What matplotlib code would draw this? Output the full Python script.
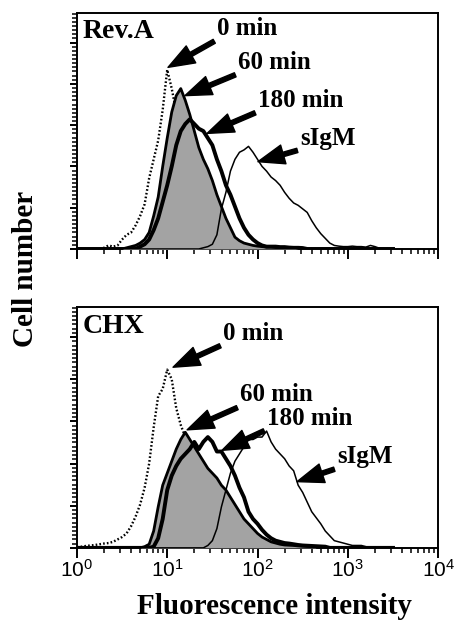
import numpy as np
import matplotlib
matplotlib.use("Agg")
import matplotlib.pyplot as plt
from matplotlib.ticker import LogLocator, MultipleLocator, NullFormatter

plt.rcParams['font.family'] = ['Liberation Serif', 'DejaVu Serif']
plt.rcParams['font.weight'] = 'bold'

# histogram channels: log10 fluorescence 0.00, 0.05, ... 3.50
log_channel = np.arange(71) * 0.05

# --- Rev.A panel (cell counts, % of full scale)
top_0min = [0]*6 + [0.5, 1.5, 1, 1.5, 4, 6, 7, 10, 14, 19, 30, 38, 46, 59, 76, 68, 58, 45,
                    35, 26, 19, 13, 9, 6, 4, 3, 2, 1.5, 1, 0.5, 0.5]
top_60min = [0]*11 + [0.5, 1, 1.5, 2.5, 4, 7, 14, 22, 35, 47, 58, 65, 68, 63, 57, 50, 43,
                      38, 34, 29, 23, 18, 13, 9, 5, 3.5, 2.5, 2, 1.5, 1.2, 1, 0.8, 0.8,
                      0.6, 0.6, 0.5, 0.4, 0.3]
top_180min = [0]*14 + [1, 2, 4, 8, 13, 20, 27, 35, 44, 50, 53, 55, 53, 51, 50, 47, 44,
                       38, 33, 27, 23, 18, 13, 9, 6, 4, 2.5, 1.5, 1, 1, 1, 0.8, 0.8, 0.6,
                       0.5, 0.5, 0.4]
top_sigm = [0]*28 + [0.5, 1, 2, 6, 17, 24, 33, 38, 41, 42, 43.5, 41, 38, 35, 33, 30.5, 29,
                     27, 24, 21.5, 19.5, 18.5, 17, 15.5, 12, 9, 6.5, 4.5, 2.5, 1.5, 1.2,
                     1, 1, 1.2, 1, 1, 0.8, 1.5, 1, 0.3]

# --- CHX panel
bot_0min = [0.3, 0.5, 0.8, 1, 1.2, 1.5, 1.8, 2, 2.5, 3.5, 4.5, 6, 9, 13, 18, 25, 35, 50,
            63, 66, 74, 70, 58, 51, 46, 40, 33, 27, 21, 16, 12, 9, 6, 4, 3, 2, 1.5, 1.2,
            1, 0.8, 0.5]
bot_60min = [0]*15 + [0.5, 1.5, 7, 17, 26, 31, 36, 41, 45, 48, 45, 42, 39, 36, 33, 31, 29,
                      26, 24, 21, 18, 15, 12, 10, 8, 6, 4.5, 3.5, 2.5, 2, 1.5, 1.2, 1.1,
                      1, 0.8, 0.7, 0.6, 0.5]
bot_180min = [0]*17 + [0.5, 4, 12, 24, 30, 34, 37, 39, 41, 44, 41, 44, 46, 44, 40, 40, 37,
                       34, 30, 25, 21, 15, 12, 10, 7.5, 5.5, 4, 3, 2.5, 2, 1.8, 1.5, 1.2,
                       1, 0.9, 0.8, 0.7, 0.6, 0.5]
bot_sigm = [0]*29 + [1, 3, 8, 17, 24, 31, 36, 39, 42, 45, 45, 46, 46, 48.5, 44, 41, 39, 37,
                     34, 32, 26, 23, 19, 15, 12.5, 10, 7, 5, 3, 2.5, 2, 1.5, 1, 1, 1, 0.5]

time_labels = ['0 min', '60 min', '180 min', 'sIgM']
panel_names = ['Rev.A', 'CHX']
# arrow tips (fluorescence, count) and label anchors for each panel
top_tips = [(10.2, 77), (15.7, 65), (27.6, 49), (101, 37)]
top_text = [(35.6, 93.6), (60.8, 79.2), (101, 63.1), (296, 47)]
bot_tips = [(11.6, 75), (16.6, 49), (40.4, 40.5), (274, 27.5)]
bot_text = [(41.5, 89.2), (64, 63.5), (127, 53.9), (760, 37.8)]


def full(v):
    v = list(v) + [0] * (len(log_channel) - len(v))
    return np.array(v, dtype=float)


fig = plt.figure(figsize=(4.55, 6.24), dpi=100)
ax_top = fig.add_axes([0.169, 0.601, 0.794, 0.378])
ax_bot = fig.add_axes([0.169, 0.122, 0.794, 0.386])

chan = 10 ** log_channel
panels = [
    (ax_top, top_0min, top_60min, top_180min, top_sigm, top_tips, top_text),
    (ax_bot, bot_0min, bot_60min, bot_180min, bot_sigm, bot_tips, bot_text),
]

for k, (ax, c0, c60, c180, csig, tips, txt) in enumerate(panels):
    ax.plot(chan, full(c0), color='black', lw=1.7,
            linestyle=(0, (0.7, 0.9)), zorder=2)
    ax.fill_between(chan, full(c60), color='#a3a3a3', lw=0, zorder=3)
    ax.plot(chan, full(c60), color='black', lw=2.0, zorder=4)
    ax.plot(chan, full(c180), color='black', lw=2.8, zorder=5)
    ax.plot(chan, full(csig), color='black', lw=1.1, zorder=6)

    for lab, tip, pos in zip(time_labels, tips, txt):
        ax.annotate(lab, xy=tip, xytext=pos, fontsize=18, fontweight='bold',
                    ha='left', va='center', zorder=8,
                    arrowprops=dict(facecolor='black', edgecolor='black', width=3.2,
                                    headwidth=14, headlength=19, shrink=0))

    ax.text(0.017, 0.92, panel_names[k], transform=ax.transAxes, fontsize=20,
            fontweight='bold', ha='left', va='center')

    ax.set_xscale('log')
    ax.set_xlim(1, 1e4)
    ax.set_ylim(0, 100)
    ax.xaxis.set_major_locator(LogLocator(base=10, numticks=10))
    ax.xaxis.set_minor_locator(LogLocator(base=10, subs=np.arange(2, 10), numticks=40))
    ax.xaxis.set_minor_formatter(NullFormatter())
    ax.yaxis.set_major_locator(MultipleLocator(17.5))
    ax.yaxis.set_minor_locator(MultipleLocator(1.75))
    ax.set_yticklabels([])
    ax.tick_params(axis='both', which='major', direction='out', length=7, width=1.4)
    ax.tick_params(axis='both', which='minor', direction='out', length=3.5, width=1.1)
    ax.tick_params(axis='y', which='major', length=5)
    for s in ax.spines.values():
        s.set_linewidth(1.4)

ax_top.set_xticklabels([])
ax_bot.set_xticks([1, 10, 100, 1000, 10000])
ax_bot.set_xticklabels([r'$\mathregular{10^{%d}}$' % n for n in range(5)],
                       fontfamily='Liberation Sans', fontweight='normal', fontsize=15)
ax_bot.tick_params(axis='x', which='major', pad=1)

fig.text(274 / 455, 1 - 607 / 624, 'Fluorescence intensity', fontsize=21,
         fontweight='bold', ha='center', va='center')
fig.text(26 / 455, 1 - 269 / 624, 'Cell number', fontsize=21, fontweight='bold',
         ha='center', va='center', rotation=90)

fig.savefig('out.png', dpi=100)
